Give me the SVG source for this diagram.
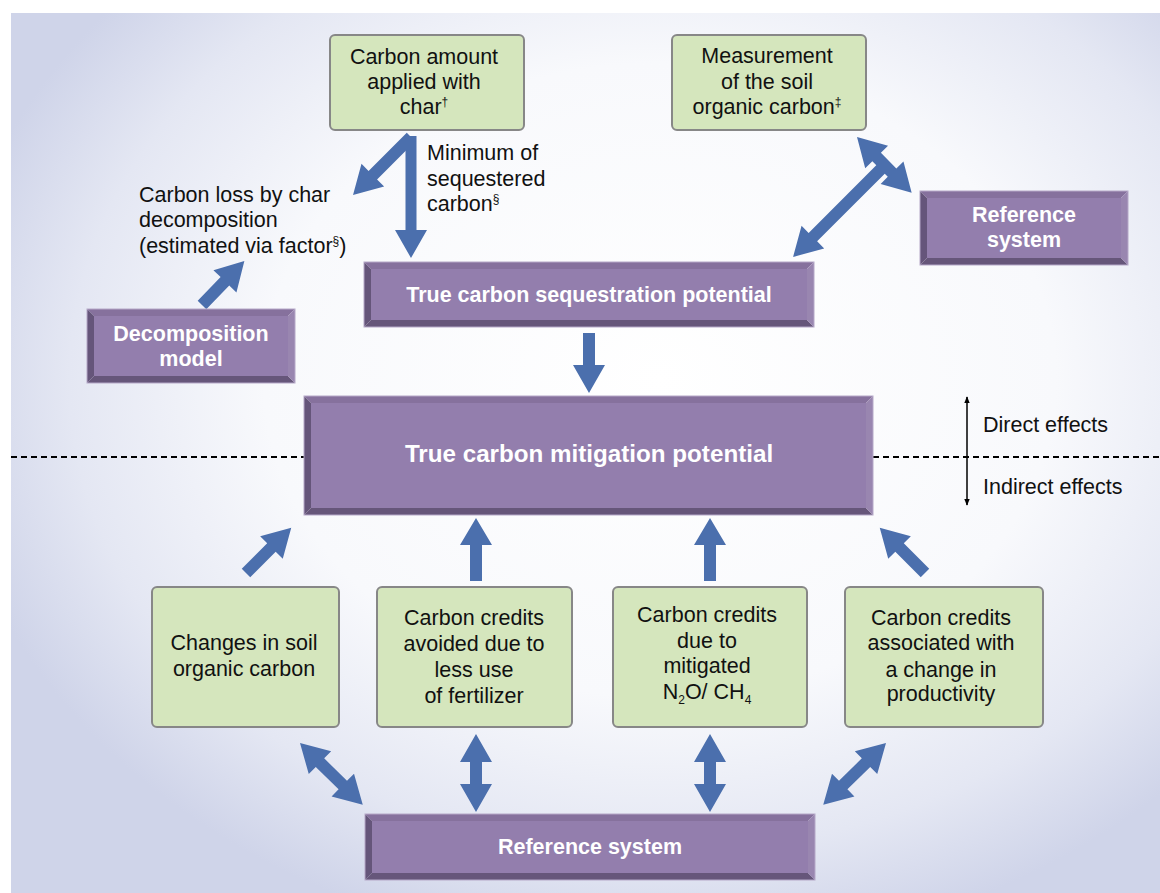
<svg xmlns="http://www.w3.org/2000/svg" width="1160" height="893" viewBox="0 0 1160 893">
<defs>
<radialGradient id="bg" gradientUnits="userSpaceOnUse" cx="660" cy="380" r="720" gradientTransform="translate(660 380) scale(1 0.8) translate(-660 -380)">
<stop offset="0" stop-color="#ffffff"/>
<stop offset="0.55" stop-color="#f8f9fc"/>
<stop offset="0.82" stop-color="#e4e7f3"/>
<stop offset="1" stop-color="#cfd4e9"/>
</radialGradient>
<marker id="ah" viewBox="0 0 10 10" refX="9" refY="5" markerWidth="7" markerHeight="7" orient="auto-start-reverse" markerUnits="userSpaceOnUse">
<path d="M0,1 L10,5 L0,9 Z" fill="#000"/>
</marker>
</defs>
<style>
.t{font-family:"Liberation Sans",Arial,Helvetica,sans-serif;font-size:21.5px;fill:#111;}
.c{text-anchor:middle;}
.w{font-family:"Liberation Sans",Arial,Helvetica,sans-serif;font-size:21.5px;font-weight:bold;fill:#fff;text-anchor:middle;}
.g{fill:#d5e6bd;stroke:#878787;stroke-width:2;}
.bt{fill:#86719d;}
.bl{fill:#65557a;}
.bb{fill:#66567a;}
.br{fill:#9986b0;}
.bf{fill:#937ead;}
.bo{fill:none;stroke:#b5a8c8;stroke-width:1;}
.ar{fill:#4b6fad;}
.sup{font-size:12px;}
</style>
<rect x="0" y="0" width="1160" height="893" fill="#ffffff"/>
<rect x="11" y="13" width="1149" height="880" fill="url(#bg)"/>

<g id="connectors">
<line x1="11" y1="457" x2="304" y2="457" stroke="#000" stroke-width="2" stroke-dasharray="6 4"/>
<line x1="873" y1="457" x2="1160" y2="457" stroke="#000" stroke-width="2" stroke-dasharray="6 4"/>
<line x1="967" y1="397" x2="967" y2="505" stroke="#000" stroke-width="1.5" marker-start="url(#ah)" marker-end="url(#ah)"/>
<polygon class="ar" transform="translate(411 136) rotate(90)" points="0,-5.5 94,-5.5 94,-16 122,0 94,16 94,5.5 0,5.5"/>
<polygon class="ar" transform="translate(411 137) rotate(135)" points="0,-6 54,-6 54,-16 82,0 54,16 54,6 0,6"/>
<polygon class="ar" transform="translate(202 305) rotate(-46)" points="0,-6 33,-6 33,-16 61,0 33,16 33,6 0,6"/>
<polygon class="ar" transform="translate(885 165) rotate(135)" points="0,-6 102,-6 102,-16 130,0 102,16 102,6 0,6"/>
<polygon class="ar" transform="translate(857 137) rotate(45.5)" points="0,0 28,-16 28,-6 50,-6 50,-16 78,0 50,16 50,6 28,6 28,16"/>
<polygon class="ar" transform="translate(589 333) rotate(90)" points="0,-6 32,-6 32,-16 60,0 32,16 32,6 0,6"/>
<polygon class="ar" transform="translate(246 573) rotate(-45)" points="0,-6 36,-6 36,-16 64,0 36,16 36,6 0,6"/>
<polygon class="ar" transform="translate(476 581) rotate(-90)" points="0,-6 36,-6 36,-16 63,0 36,16 36,6 0,6"/>
<polygon class="ar" transform="translate(710 581) rotate(-90)" points="0,-6 36,-6 36,-16 63,0 36,16 36,6 0,6"/>
<polygon class="ar" transform="translate(925 573) rotate(-135)" points="0,-6 36,-6 36,-16 64,0 36,16 36,6 0,6"/>
<polygon class="ar" transform="translate(300 743) rotate(44.5)" points="0,0 28,-16 28,-6 60,-6 60,-16 88,0 60,16 60,6 28,6 28,16"/>
<polygon class="ar" transform="translate(476 734) rotate(90)" points="0,0 28,-16 28,-6 50,-6 50,-16 78,0 50,16 50,6 28,6 28,16"/>
<polygon class="ar" transform="translate(710 734) rotate(90)" points="0,0 28,-16 28,-6 50,-6 50,-16 78,0 50,16 50,6 28,6 28,16"/>
<polygon class="ar" transform="translate(886 743) rotate(135.5)" points="0,0 28,-16 28,-6 60,-6 60,-16 88,0 60,16 60,6 28,6 28,16"/>
</g>

<g id="char-box">
<rect class="g" x="330" y="35" width="194" height="95" rx="5"/>
<text class="t c" x="424" y="64">Carbon amount</text>
<text class="t c" x="424" y="89">applied with</text>
<text class="t c" x="424" y="114">char<tspan class="sup" dy="-8">†</tspan></text>
</g>

<g id="measurement-box">
<rect class="g" x="672" y="35" width="194" height="95" rx="5"/>
<text class="t c" x="767" y="63">Measurement</text>
<text class="t c" x="767" y="89">of the soil</text>
<text class="t c" x="767" y="114">organic carbon<tspan class="sup" dy="-8">‡</tspan></text>
</g>

<g id="min-label">
<text class="t" x="427" y="160">Minimum of</text>
<text class="t" x="427" y="186">sequestered</text>
<text class="t" x="427" y="211">carbon<tspan class="sup" dy="-8">§</tspan></text>
</g>

<g id="loss-label">
<text class="t" x="139" y="202">Carbon loss by char</text>
<text class="t" x="139" y="227">decomposition</text>
<text class="t" x="139" y="253">(estimated via factor<tspan class="sup" dy="-8">§</tspan><tspan dy="8">)</tspan></text>
</g>

<g id="reference-top">
<polygon class="bt" points="920,191 1128,191 1121,198 927,198"/>
<polygon class="bl" points="920,191 927,198 927,258 920,265"/>
<polygon class="bb" points="920,265 927,258 1121,258 1128,265"/>
<polygon class="br" points="1128,191 1128,265 1121,258 1121,198"/>
<rect class="bf" x="927" y="198" width="194" height="60"/>
<rect class="bo" x="920" y="191" width="208" height="74"/>
<text class="w" x="1024" y="222">Reference</text>
<text class="w" x="1024" y="247">system</text>
</g>

<g id="sequestration">
<polygon class="bt" points="364,262 814,262 807,269 371,269"/>
<polygon class="bl" points="364,262 371,269 371,320 364,327"/>
<polygon class="bb" points="364,327 371,320 807,320 814,327"/>
<polygon class="br" points="814,262 814,327 807,320 807,269"/>
<rect class="bf" x="371" y="269" width="436" height="51"/>
<rect class="bo" x="364" y="262" width="450" height="65"/>
<text class="w" x="589" y="302">True carbon sequestration potential</text>
</g>

<g id="decomposition">
<polygon class="bt" points="87,309 295,309 288,316 94,316"/>
<polygon class="bl" points="87,309 94,316 94,376 87,383"/>
<polygon class="bb" points="87,383 94,376 288,376 295,383"/>
<polygon class="br" points="295,309 295,383 288,376 288,316"/>
<rect class="bf" x="94" y="316" width="194" height="60"/>
<rect class="bo" x="87" y="309" width="208" height="74"/>
<text class="w" x="191" y="341">Decomposition</text>
<text class="w" x="191" y="366">model</text>
</g>

<g id="mitigation">
<polygon class="bt" points="304,396 873,396 866,403 311,403"/>
<polygon class="bl" points="304,396 311,403 311,508 304,515"/>
<polygon class="bb" points="304,515 311,508 866,508 873,515"/>
<polygon class="br" points="873,396 873,515 866,508 866,403"/>
<rect class="bf" x="311" y="403" width="555" height="105"/>
<rect class="bo" x="304" y="396" width="569" height="119"/>
<text class="w" x="589" y="462" style="font-size:24.2px">True carbon mitigation potential</text>
</g>

<g id="soil-box">
<rect class="g" x="152" y="587" width="187" height="140" rx="5"/>
<text class="t c" x="244" y="650">Changes in soil</text>
<text class="t c" x="244" y="676">organic carbon</text>
</g>

<g id="fertilizer-box">
<rect class="g" x="377" y="587" width="195" height="140" rx="5"/>
<text class="t c" x="474" y="625">Carbon credits</text>
<text class="t c" x="474" y="651">avoided due to</text>
<text class="t c" x="474" y="677">less use</text>
<text class="t c" x="474" y="703">of fertilizer</text>
</g>

<g id="n2o-box">
<rect class="g" x="613" y="587" width="194" height="140" rx="5"/>
<text class="t c" x="707" y="622">Carbon credits</text>
<text class="t c" x="707" y="648">due to</text>
<text class="t c" x="707" y="673">mitigated</text>
<text class="t c" x="707" y="699">N<tspan class="sup" dy="5">2</tspan><tspan dy="-5">O/ CH</tspan><tspan class="sup" dy="5">4</tspan></text>
</g>

<g id="productivity-box">
<rect class="g" x="845" y="587" width="198" height="140" rx="5"/>
<text class="t c" x="941" y="625">Carbon credits</text>
<text class="t c" x="941" y="650">associated with</text>
<text class="t c" x="941" y="677">a change in</text>
<text class="t c" x="941" y="701">productivity</text>
</g>

<g id="reference-bottom">
<polygon class="bt" points="365,814 815,814 808,821 372,821"/>
<polygon class="bl" points="365,814 372,821 372,873 365,880"/>
<polygon class="bb" points="365,880 372,873 808,873 815,880"/>
<polygon class="br" points="815,814 815,880 808,873 808,821"/>
<rect class="bf" x="372" y="821" width="436" height="52"/>
<rect class="bo" x="365" y="814" width="450" height="66"/>
<text class="w" x="590" y="854">Reference system</text>
</g>

<g id="effects-labels">
<text class="t" x="983" y="432">Direct effects</text>
<text class="t" x="983" y="494">Indirect effects</text>
</g>
</svg>
